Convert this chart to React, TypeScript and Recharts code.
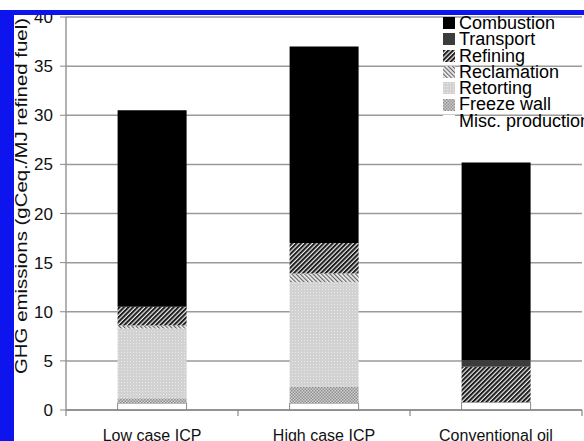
import { BarChart, Bar, XAxis, YAxis, CartesianGrid, Legend } from 'recharts';

const categories = ['Low case ICP', 'High case ICP', 'Conventional oil'];
const miscProduction = [0.7, 0.7, 0.8];
const freezeWall = [0.5, 1.65, 0];
const retorting = [7.1, 10.65, 0];
const reclamation = [0.3, 0.9, 0];
const refining = [1.9, 3.1, 3.6];
const transport = [0, 0, 0.7];
const combustion = [20.0, 20.0, 20.1];
const yTicks = [0, 5, 10, 15, 20, 25, 30, 35, 40];

const FONT = '"Liberation Sans", Arial, sans-serif';

// stacking order, bottom to top
const series = [
  { key: 'misc', name: 'Misc. production', values: miscProduction, fill: '#ffffff', stroke: '#8a8a8a' },
  { key: 'freeze', name: 'Freeze wall', values: freezeWall, fill: 'url(#pFreeze)', stroke: 'none' },
  { key: 'retorting', name: 'Retorting', values: retorting, fill: 'url(#pRetort)', stroke: 'none' },
  { key: 'reclamation', name: 'Reclamation', values: reclamation, fill: 'url(#pReclaim)', stroke: 'none' },
  { key: 'refining', name: 'Refining', values: refining, fill: 'url(#pRefine)', stroke: 'none' },
  { key: 'transport', name: 'Transport', values: transport, fill: '#3c3c3c', stroke: 'none' },
  { key: 'combustion', name: 'Combustion', values: combustion, fill: '#000000', stroke: 'none' },
];

const data = categories.map((c, i) => {
  const row: Record<string, string | number> = { name: c };
  series.forEach((s) => { row[s.key] = s.values[i]; });
  return row;
});

const BAND = 516 / categories.length;

const XTick = (props: any) => {
  const { x, y, payload, index } = props;
  return (
    <g>
      <line x1={x - BAND / 2} x2={x - BAND / 2} y1={y - 8} y2={y - 2} stroke="#888" strokeWidth={1.2} />
      {index === categories.length - 1 && (
        <line x1={x + BAND / 2} x2={x + BAND / 2} y1={y - 8} y2={y - 2} stroke="#888" strokeWidth={1.2} />
      )}
      <text x={x} y={y + 12} textAnchor="middle" dy="0.71em" fontSize={16} fontFamily={FONT} fill="#111">
        {payload.value}
      </text>
    </g>
  );
};

const LegendBox = () => (
  <div style={{ fontFamily: FONT, fontSize: 18, lineHeight: '16.3px', color: '#000' }}>
    {[...series].reverse().map((s) => (
      <div key={s.key} style={{ display: 'flex', alignItems: 'center', whiteSpace: 'nowrap' }}>
        <svg width={12} height={12} style={{ marginRight: 4, flex: 'none' }}>
          <rect x={0} y={0} width={12} height={12} fill={s.fill} />
        </svg>
        <span>{s.name}</span>
      </div>
    ))}
  </div>
);

const YLabel = () => (
  <text
    x={27}
    y={374}
    transform="rotate(-90, 27, 374)"
    fontSize={17}
    fontFamily={FONT}
    fill="#111"
    textLength={356}
    lengthAdjust="spacingAndGlyphs"
  >
    GHG emissions (gCeq./MJ refined fuel)
  </text>
);

export default function App() {
  return (
    <div style={{ position: 'absolute', left: 0, top: 0, width: 584, height: 441, background: '#fff', overflow: 'hidden' }}>
      <BarChart
        width={584}
        height={441}
        data={data}
        margin={{ top: 17, right: 2, bottom: 0, left: 0 }}
        barCategoryGap="30%"
      >
        <defs>
          <pattern id="pRefine" width="3.2" height="3.2" patternUnits="userSpaceOnUse" patternTransform="rotate(45)">
            <rect width="3.2" height="3.2" fill="#eeeeee" />
            <rect width="2" height="3.2" fill="#1c1c1c" />
          </pattern>
          <pattern id="pReclaim" width="3" height="3" patternUnits="userSpaceOnUse" patternTransform="rotate(-45)">
            <rect width="3" height="3" fill="#f0f0f0" />
            <rect width="1.2" height="3" fill="#666" />
          </pattern>
          <pattern id="pRetort" width="3" height="3" patternUnits="userSpaceOnUse">
            <rect width="3" height="3" fill="#d2d2d2" />
            <rect x="1" y="1" width="1" height="1" fill="#e8e8e8" />
          </pattern>
          <pattern id="pFreeze" width="3" height="3" patternUnits="userSpaceOnUse">
            <rect width="3" height="3" fill="#d0d0d0" />
            <rect width="1.5" height="1.5" fill="#8f8f8f" />
            <rect x="1.5" y="1.5" width="1.5" height="1.5" fill="#8f8f8f" />
          </pattern>
        </defs>
        <CartesianGrid vertical={false} stroke="#9a9a9a" strokeWidth={1.5} />
        <XAxis
          dataKey="name"
          height={31}
          axisLine={{ stroke: '#888', strokeWidth: 1.5 }}
          tickLine={false}
          tick={<XTick />}
          interval={0}
        />
        <YAxis
          width={66}
          domain={[0, 40]}
          ticks={yTicks}
          interval={0}
          axisLine={{ stroke: '#999', strokeWidth: 1.5 }}
          tickLine={{ stroke: '#888' }}
          tickSize={6}
          tickMargin={7}
          tick={{ fontSize: 17, fontFamily: FONT, fill: '#111' }}
          label={<YLabel />}
        />
        <Legend
          layout="vertical"
          align="center"
          verticalAlign="middle"
          content={<LegendBox />}
          wrapperStyle={{ position: 'absolute', top: 15, left: 443, width: 160, height: 120 }}
        />
        {series.map((s) => (
          <Bar
            key={s.key}
            dataKey={s.key}
            name={s.name}
            stackId="ghg"
            fill={s.fill}
            stroke={s.stroke}
            strokeWidth={1}
            isAnimationActive={false}
          />
        ))}
      </BarChart>
      <div style={{ position: 'absolute', left: 0, top: 10, width: 584, height: 5, background: '#0d14ee' }} />
      <div style={{ position: 'absolute', left: 0, top: 10, width: 14, height: 431, background: '#0d14ee' }} />
    </div>
  );
}
